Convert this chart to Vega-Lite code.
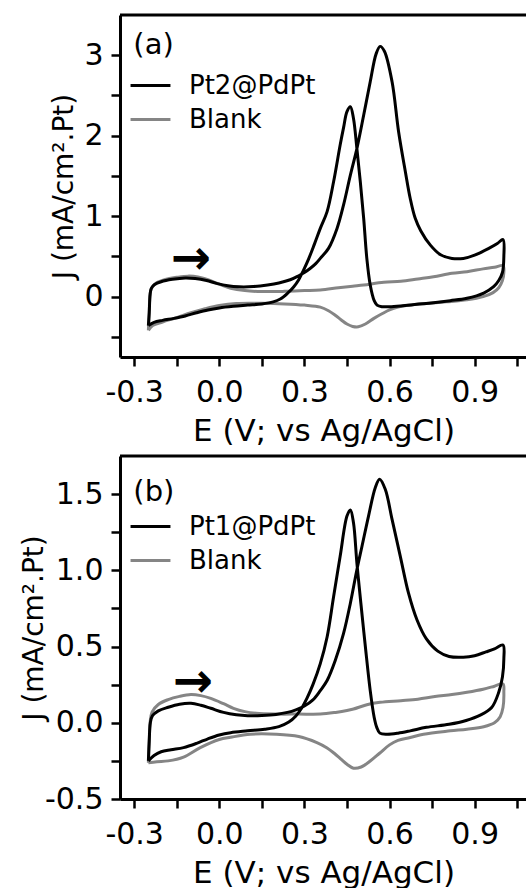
{
"$schema": "https://vega.github.io/schema/vega-lite/v6.json",
"background": "white",
"padding": {"left": 20, "top": 13, "right": 0, "bottom": 0},
"config": {
  "font": "DejaVu Sans",
  "view": {"stroke": null},
  "axis": {"domainColor": "black", "domainWidth": 3, "tickColor": "black", "tickWidth": 2.5, "tickSize": 9, "labelColor": "black", "titleColor": "black", "labelFont": "DejaVu Sans", "titleFont": "DejaVu Sans", "labelFontSize": 30, "titleFontSize": 31, "titleFontWeight": "normal", "grid": false, "labelFlush": false, "labelOverlap": false, "labelPadding": 8},
  "axisX": {"labelPadding": 11, "titlePadding": 9},
  "axisY": {"titleFontSize": 28, "titleBaseline": "bottom"},
  "legend": {"orient": "none", "legendX": 14, "legendY": 54, "title": null, "symbolType": "M-1.33,0L1.33,0", "symbolSize": 900, "symbolStrokeWidth": 3, "labelFontSize": 26, "labelFont": "DejaVu Sans", "labelColor": "black", "labelOffset": 22, "rowPadding": 4, "padding": 0}
},
"datasets": {
"a": [
{"s":"Blank","i":0,"E":-0.25,"J":-0.42},{"s":"Blank","i":1,"E":-0.247,"J":-0.2},{"s":"Blank","i":2,"E":-0.244,"J":0.03},{"s":"Blank","i":3,"E":-0.238,"J":0.11},{"s":"Blank","i":4,"E":-0.222,"J":0.17},{"s":"Blank","i":5,"E":-0.19,"J":0.215},{"s":"Blank","i":6,"E":-0.15,"J":0.24},{"s":"Blank","i":7,"E":-0.11,"J":0.255},{"s":"Blank","i":8,"E":-0.075,"J":0.245},{"s":"Blank","i":9,"E":-0.04,"J":0.21},{"s":"Blank","i":10,"E":0.0,"J":0.155},{"s":"Blank","i":11,"E":0.04,"J":0.105},{"s":"Blank","i":12,"E":0.09,"J":0.075},{"s":"Blank","i":13,"E":0.15,"J":0.063},{"s":"Blank","i":14,"E":0.23,"J":0.066},{"s":"Blank","i":15,"E":0.3,"J":0.075},{"s":"Blank","i":16,"E":0.356,"J":0.083},{"s":"Blank","i":17,"E":0.42,"J":0.11},{"s":"Blank","i":18,"E":0.47,"J":0.13},{"s":"Blank","i":19,"E":0.509,"J":0.145},{"s":"Blank","i":20,"E":0.58,"J":0.178},{"s":"Blank","i":21,"E":0.64,"J":0.19},{"s":"Blank","i":22,"E":0.7,"J":0.22},{"s":"Blank","i":23,"E":0.755,"J":0.248},{"s":"Blank","i":24,"E":0.82,"J":0.29},{"s":"Blank","i":25,"E":0.873,"J":0.31},{"s":"Blank","i":26,"E":0.93,"J":0.345},{"s":"Blank","i":27,"E":0.97,"J":0.365},{"s":"Blank","i":28,"E":1.0,"J":0.385},
{"s":"Blank","i":29,"E":1.003,"J":0.3},{"s":"Blank","i":30,"E":0.998,"J":0.2},{"s":"Blank","i":31,"E":0.985,"J":0.11},{"s":"Blank","i":32,"E":0.965,"J":0.05},{"s":"Blank","i":33,"E":0.93,"J":0.0},{"s":"Blank","i":34,"E":0.873,"J":-0.04},{"s":"Blank","i":35,"E":0.8,"J":-0.065},{"s":"Blank","i":36,"E":0.73,"J":-0.085},{"s":"Blank","i":37,"E":0.673,"J":-0.104},{"s":"Blank","i":38,"E":0.63,"J":-0.13},{"s":"Blank","i":39,"E":0.6,"J":-0.165},{"s":"Blank","i":40,"E":0.575,"J":-0.21},{"s":"Blank","i":41,"E":0.545,"J":-0.27},{"s":"Blank","i":42,"E":0.515,"J":-0.34},{"s":"Blank","i":43,"E":0.49,"J":-0.375},{"s":"Blank","i":44,"E":0.47,"J":-0.37},{"s":"Blank","i":45,"E":0.45,"J":-0.34},{"s":"Blank","i":46,"E":0.43,"J":-0.29},{"s":"Blank","i":47,"E":0.41,"J":-0.235},{"s":"Blank","i":48,"E":0.385,"J":-0.175},{"s":"Blank","i":49,"E":0.356,"J":-0.13},{"s":"Blank","i":50,"E":0.3,"J":-0.105},{"s":"Blank","i":51,"E":0.23,"J":-0.09},{"s":"Blank","i":52,"E":0.15,"J":-0.083},{"s":"Blank","i":53,"E":0.06,"J":-0.085},{"s":"Blank","i":54,"E":0.0,"J":-0.11},{"s":"Blank","i":55,"E":-0.05,"J":-0.15},{"s":"Blank","i":56,"E":-0.1,"J":-0.2},{"s":"Blank","i":57,"E":-0.15,"J":-0.26},{"s":"Blank","i":58,"E":-0.2,"J":-0.315},{"s":"Blank","i":59,"E":-0.235,"J":-0.36},{"s":"Blank","i":60,"E":-0.25,"J":-0.42},
{"s":"Pt2@PdPt","i":0,"E":-0.25,"J":-0.36},{"s":"Pt2@PdPt","i":1,"E":-0.247,"J":-0.2},{"s":"Pt2@PdPt","i":2,"E":-0.244,"J":0.02},{"s":"Pt2@PdPt","i":3,"E":-0.24,"J":0.1},{"s":"Pt2@PdPt","i":4,"E":-0.228,"J":0.15},{"s":"Pt2@PdPt","i":5,"E":-0.205,"J":0.185},{"s":"Pt2@PdPt","i":6,"E":-0.165,"J":0.215},{"s":"Pt2@PdPt","i":7,"E":-0.12,"J":0.232},{"s":"Pt2@PdPt","i":8,"E":-0.085,"J":0.225},{"s":"Pt2@PdPt","i":9,"E":-0.045,"J":0.2},{"s":"Pt2@PdPt","i":10,"E":-0.01,"J":0.165},{"s":"Pt2@PdPt","i":11,"E":0.03,"J":0.135},{"s":"Pt2@PdPt","i":12,"E":0.07,"J":0.122},{"s":"Pt2@PdPt","i":13,"E":0.12,"J":0.125},{"s":"Pt2@PdPt","i":14,"E":0.17,"J":0.145},{"s":"Pt2@PdPt","i":15,"E":0.21,"J":0.17},{"s":"Pt2@PdPt","i":16,"E":0.25,"J":0.21},{"s":"Pt2@PdPt","i":17,"E":0.28,"J":0.26},{"s":"Pt2@PdPt","i":18,"E":0.3,"J":0.3},{"s":"Pt2@PdPt","i":19,"E":0.32,"J":0.35},{"s":"Pt2@PdPt","i":20,"E":0.34,"J":0.41},{"s":"Pt2@PdPt","i":21,"E":0.356,"J":0.476},{"s":"Pt2@PdPt","i":22,"E":0.385,"J":0.6},{"s":"Pt2@PdPt","i":23,"E":0.415,"J":0.848},{"s":"Pt2@PdPt","i":24,"E":0.438,"J":1.14},{"s":"Pt2@PdPt","i":25,"E":0.462,"J":1.51},{"s":"Pt2@PdPt","i":26,"E":0.485,"J":1.84},{"s":"Pt2@PdPt","i":27,"E":0.509,"J":2.257},{"s":"Pt2@PdPt","i":28,"E":0.532,"J":2.67},{"s":"Pt2@PdPt","i":29,"E":0.553,"J":3.02},{"s":"Pt2@PdPt","i":30,"E":0.567,"J":3.11},{"s":"Pt2@PdPt","i":31,"E":0.582,"J":3.05},{"s":"Pt2@PdPt","i":32,"E":0.609,"J":2.67},{"s":"Pt2@PdPt","i":33,"E":0.632,"J":2.05},{"s":"Pt2@PdPt","i":34,"E":0.656,"J":1.55},{"s":"Pt2@PdPt","i":35,"E":0.673,"J":1.22},{"s":"Pt2@PdPt","i":36,"E":0.69,"J":0.98},{"s":"Pt2@PdPt","i":37,"E":0.71,"J":0.82},{"s":"Pt2@PdPt","i":38,"E":0.744,"J":0.64},{"s":"Pt2@PdPt","i":39,"E":0.78,"J":0.52},{"s":"Pt2@PdPt","i":40,"E":0.82,"J":0.475},{"s":"Pt2@PdPt","i":41,"E":0.86,"J":0.475},{"s":"Pt2@PdPt","i":42,"E":0.9,"J":0.515},{"s":"Pt2@PdPt","i":43,"E":0.95,"J":0.6},{"s":"Pt2@PdPt","i":44,"E":0.98,"J":0.66},{"s":"Pt2@PdPt","i":45,"E":1.0,"J":0.71},
{"s":"Pt2@PdPt","i":46,"E":1.003,"J":0.5},{"s":"Pt2@PdPt","i":47,"E":0.998,"J":0.3},{"s":"Pt2@PdPt","i":48,"E":0.985,"J":0.2},{"s":"Pt2@PdPt","i":49,"E":0.967,"J":0.124},{"s":"Pt2@PdPt","i":50,"E":0.932,"J":0.045},{"s":"Pt2@PdPt","i":51,"E":0.873,"J":-0.02},{"s":"Pt2@PdPt","i":52,"E":0.814,"J":-0.05},{"s":"Pt2@PdPt","i":53,"E":0.755,"J":-0.075},{"s":"Pt2@PdPt","i":54,"E":0.697,"J":-0.095},{"s":"Pt2@PdPt","i":55,"E":0.64,"J":-0.115},{"s":"Pt2@PdPt","i":56,"E":0.6,"J":-0.125},{"s":"Pt2@PdPt","i":57,"E":0.573,"J":-0.125},{"s":"Pt2@PdPt","i":58,"E":0.556,"J":-0.105},{"s":"Pt2@PdPt","i":59,"E":0.546,"J":-0.05},{"s":"Pt2@PdPt","i":60,"E":0.532,"J":0.145},{"s":"Pt2@PdPt","i":61,"E":0.52,"J":0.476},{"s":"Pt2@PdPt","i":62,"E":0.509,"J":0.97},{"s":"Pt2@PdPt","i":63,"E":0.497,"J":1.43},{"s":"Pt2@PdPt","i":64,"E":0.485,"J":1.84},{"s":"Pt2@PdPt","i":65,"E":0.473,"J":2.215},{"s":"Pt2@PdPt","i":66,"E":0.462,"J":2.36},{"s":"Pt2@PdPt","i":67,"E":0.45,"J":2.3},{"s":"Pt2@PdPt","i":68,"E":0.438,"J":2.1},{"s":"Pt2@PdPt","i":69,"E":0.426,"J":1.884},{"s":"Pt2@PdPt","i":70,"E":0.403,"J":1.43},{"s":"Pt2@PdPt","i":71,"E":0.38,"J":1.056},{"s":"Pt2@PdPt","i":72,"E":0.356,"J":0.848},{"s":"Pt2@PdPt","i":73,"E":0.335,"J":0.65},{"s":"Pt2@PdPt","i":74,"E":0.315,"J":0.47},{"s":"Pt2@PdPt","i":75,"E":0.297,"J":0.33},{"s":"Pt2@PdPt","i":76,"E":0.28,"J":0.21},{"s":"Pt2@PdPt","i":77,"E":0.262,"J":0.12},{"s":"Pt2@PdPt","i":78,"E":0.24,"J":0.04},{"s":"Pt2@PdPt","i":79,"E":0.215,"J":-0.03},{"s":"Pt2@PdPt","i":80,"E":0.19,"J":-0.065},{"s":"Pt2@PdPt","i":81,"E":0.15,"J":-0.09},{"s":"Pt2@PdPt","i":82,"E":0.1,"J":-0.105},{"s":"Pt2@PdPt","i":83,"E":0.05,"J":-0.12},{"s":"Pt2@PdPt","i":84,"E":0.0,"J":-0.14},{"s":"Pt2@PdPt","i":85,"E":-0.04,"J":-0.165},{"s":"Pt2@PdPt","i":86,"E":-0.08,"J":-0.2},{"s":"Pt2@PdPt","i":87,"E":-0.12,"J":-0.24},{"s":"Pt2@PdPt","i":88,"E":-0.16,"J":-0.27},{"s":"Pt2@PdPt","i":89,"E":-0.2,"J":-0.295},{"s":"Pt2@PdPt","i":90,"E":-0.23,"J":-0.32},{"s":"Pt2@PdPt","i":91,"E":-0.25,"J":-0.36}
],
"b": [
{"s":"Blank","i":0,"E":-0.25,"J":-0.262},{"s":"Blank","i":1,"E":-0.247,"J":-0.12},{"s":"Blank","i":2,"E":-0.244,"J":0.0},{"s":"Blank","i":3,"E":-0.237,"J":0.07},{"s":"Blank","i":4,"E":-0.215,"J":0.12},{"s":"Blank","i":5,"E":-0.18,"J":0.152},{"s":"Blank","i":6,"E":-0.14,"J":0.173},{"s":"Blank","i":7,"E":-0.1,"J":0.185},{"s":"Blank","i":8,"E":-0.065,"J":0.178},{"s":"Blank","i":9,"E":-0.03,"J":0.16},{"s":"Blank","i":10,"E":0.015,"J":0.125},{"s":"Blank","i":11,"E":0.05,"J":0.095},{"s":"Blank","i":12,"E":0.09,"J":0.073},{"s":"Blank","i":13,"E":0.13,"J":0.062},{"s":"Blank","i":14,"E":0.2,"J":0.057},{"s":"Blank","i":15,"E":0.28,"J":0.057},{"s":"Blank","i":16,"E":0.356,"J":0.057},{"s":"Blank","i":17,"E":0.41,"J":0.068},{"s":"Blank","i":18,"E":0.45,"J":0.08},{"s":"Blank","i":19,"E":0.473,"J":0.09},{"s":"Blank","i":20,"E":0.52,"J":0.118},{"s":"Blank","i":21,"E":0.567,"J":0.134},{"s":"Blank","i":22,"E":0.64,"J":0.145},{"s":"Blank","i":23,"E":0.7,"J":0.155},{"s":"Blank","i":24,"E":0.76,"J":0.172},{"s":"Blank","i":25,"E":0.82,"J":0.185},{"s":"Blank","i":26,"E":0.873,"J":0.2},{"s":"Blank","i":27,"E":0.93,"J":0.22},{"s":"Blank","i":28,"E":0.97,"J":0.24},{"s":"Blank","i":29,"E":1.0,"J":0.255},
{"s":"Blank","i":30,"E":1.003,"J":0.2},{"s":"Blank","i":31,"E":1.0,"J":0.1},{"s":"Blank","i":32,"E":0.99,"J":0.04},{"s":"Blank","i":33,"E":0.97,"J":0.0},{"s":"Blank","i":34,"E":0.932,"J":-0.026},{"s":"Blank","i":35,"E":0.873,"J":-0.042},{"s":"Blank","i":36,"E":0.814,"J":-0.053},{"s":"Blank","i":37,"E":0.72,"J":-0.075},{"s":"Blank","i":38,"E":0.673,"J":-0.097},{"s":"Blank","i":39,"E":0.63,"J":-0.115},{"s":"Blank","i":40,"E":0.6,"J":-0.145},{"s":"Blank","i":41,"E":0.565,"J":-0.2},{"s":"Blank","i":42,"E":0.532,"J":-0.251},{"s":"Blank","i":43,"E":0.5,"J":-0.29},{"s":"Blank","i":44,"E":0.473,"J":-0.298},{"s":"Blank","i":45,"E":0.45,"J":-0.272},{"s":"Blank","i":46,"E":0.43,"J":-0.24},{"s":"Blank","i":47,"E":0.405,"J":-0.2},{"s":"Blank","i":48,"E":0.38,"J":-0.165},{"s":"Blank","i":49,"E":0.344,"J":-0.13},{"s":"Blank","i":50,"E":0.28,"J":-0.09},{"s":"Blank","i":51,"E":0.2,"J":-0.075},{"s":"Blank","i":52,"E":0.11,"J":-0.075},{"s":"Blank","i":53,"E":0.04,"J":-0.095},{"s":"Blank","i":54,"E":0.0,"J":-0.11},{"s":"Blank","i":55,"E":-0.067,"J":-0.163},{"s":"Blank","i":56,"E":-0.126,"J":-0.225},{"s":"Blank","i":57,"E":-0.18,"J":-0.25},{"s":"Blank","i":58,"E":-0.22,"J":-0.255},{"s":"Blank","i":59,"E":-0.25,"J":-0.262},
{"s":"Pt1@PdPt","i":0,"E":-0.25,"J":-0.25},{"s":"Pt1@PdPt","i":1,"E":-0.247,"J":-0.12},{"s":"Pt1@PdPt","i":2,"E":-0.243,"J":0.0},{"s":"Pt1@PdPt","i":3,"E":-0.236,"J":0.045},{"s":"Pt1@PdPt","i":4,"E":-0.215,"J":0.078},{"s":"Pt1@PdPt","i":5,"E":-0.18,"J":0.102},{"s":"Pt1@PdPt","i":6,"E":-0.14,"J":0.122},{"s":"Pt1@PdPt","i":7,"E":-0.1,"J":0.128},{"s":"Pt1@PdPt","i":8,"E":-0.065,"J":0.115},{"s":"Pt1@PdPt","i":9,"E":-0.03,"J":0.095},{"s":"Pt1@PdPt","i":10,"E":0.015,"J":0.068},{"s":"Pt1@PdPt","i":11,"E":0.06,"J":0.052},{"s":"Pt1@PdPt","i":12,"E":0.1,"J":0.046},{"s":"Pt1@PdPt","i":13,"E":0.15,"J":0.048},{"s":"Pt1@PdPt","i":14,"E":0.2,"J":0.055},{"s":"Pt1@PdPt","i":15,"E":0.24,"J":0.068},{"s":"Pt1@PdPt","i":16,"E":0.27,"J":0.085},{"s":"Pt1@PdPt","i":17,"E":0.3,"J":0.11},{"s":"Pt1@PdPt","i":18,"E":0.33,"J":0.15},{"s":"Pt1@PdPt","i":19,"E":0.356,"J":0.211},{"s":"Pt1@PdPt","i":20,"E":0.38,"J":0.277},{"s":"Pt1@PdPt","i":21,"E":0.409,"J":0.41},{"s":"Pt1@PdPt","i":22,"E":0.438,"J":0.586},{"s":"Pt1@PdPt","i":23,"E":0.462,"J":0.784},{"s":"Pt1@PdPt","i":24,"E":0.485,"J":1.004},{"s":"Pt1@PdPt","i":25,"E":0.503,"J":1.158},{"s":"Pt1@PdPt","i":26,"E":0.526,"J":1.356},{"s":"Pt1@PdPt","i":27,"E":0.55,"J":1.544},{"s":"Pt1@PdPt","i":28,"E":0.565,"J":1.598},{"s":"Pt1@PdPt","i":29,"E":0.585,"J":1.532},{"s":"Pt1@PdPt","i":30,"E":0.609,"J":1.334},{"s":"Pt1@PdPt","i":31,"E":0.638,"J":1.092},{"s":"Pt1@PdPt","i":32,"E":0.667,"J":0.85},{"s":"Pt1@PdPt","i":33,"E":0.697,"J":0.674},{"s":"Pt1@PdPt","i":34,"E":0.73,"J":0.55},{"s":"Pt1@PdPt","i":35,"E":0.77,"J":0.47},{"s":"Pt1@PdPt","i":36,"E":0.81,"J":0.435},{"s":"Pt1@PdPt","i":37,"E":0.86,"J":0.43},{"s":"Pt1@PdPt","i":38,"E":0.9,"J":0.44},{"s":"Pt1@PdPt","i":39,"E":0.94,"J":0.465},{"s":"Pt1@PdPt","i":40,"E":0.97,"J":0.485},{"s":"Pt1@PdPt","i":41,"E":1.0,"J":0.51},
{"s":"Pt1@PdPt","i":42,"E":1.003,"J":0.42},{"s":"Pt1@PdPt","i":43,"E":0.998,"J":0.3},{"s":"Pt1@PdPt","i":44,"E":0.985,"J":0.2},{"s":"Pt1@PdPt","i":45,"E":0.96,"J":0.1},{"s":"Pt1@PdPt","i":46,"E":0.92,"J":0.05},{"s":"Pt1@PdPt","i":47,"E":0.87,"J":0.015},{"s":"Pt1@PdPt","i":48,"E":0.81,"J":-0.01},{"s":"Pt1@PdPt","i":49,"E":0.73,"J":-0.03},{"s":"Pt1@PdPt","i":50,"E":0.673,"J":-0.053},{"s":"Pt1@PdPt","i":51,"E":0.63,"J":-0.068},{"s":"Pt1@PdPt","i":52,"E":0.591,"J":-0.075},{"s":"Pt1@PdPt","i":53,"E":0.566,"J":-0.068},{"s":"Pt1@PdPt","i":54,"E":0.555,"J":-0.03},{"s":"Pt1@PdPt","i":55,"E":0.546,"J":0.035},{"s":"Pt1@PdPt","i":56,"E":0.532,"J":0.211},{"s":"Pt1@PdPt","i":57,"E":0.515,"J":0.497},{"s":"Pt1@PdPt","i":58,"E":0.499,"J":0.784},{"s":"Pt1@PdPt","i":59,"E":0.485,"J":1.048},{"s":"Pt1@PdPt","i":60,"E":0.473,"J":1.312},{"s":"Pt1@PdPt","i":61,"E":0.462,"J":1.396},{"s":"Pt1@PdPt","i":62,"E":0.45,"J":1.356},{"s":"Pt1@PdPt","i":63,"E":0.426,"J":1.092},{"s":"Pt1@PdPt","i":64,"E":0.403,"J":0.828},{"s":"Pt1@PdPt","i":65,"E":0.38,"J":0.563},{"s":"Pt1@PdPt","i":66,"E":0.356,"J":0.388},{"s":"Pt1@PdPt","i":67,"E":0.33,"J":0.25},{"s":"Pt1@PdPt","i":68,"E":0.31,"J":0.165},{"s":"Pt1@PdPt","i":69,"E":0.29,"J":0.095},{"s":"Pt1@PdPt","i":70,"E":0.27,"J":0.045},{"s":"Pt1@PdPt","i":71,"E":0.245,"J":0.005},{"s":"Pt1@PdPt","i":72,"E":0.21,"J":-0.025},{"s":"Pt1@PdPt","i":73,"E":0.16,"J":-0.042},{"s":"Pt1@PdPt","i":74,"E":0.1,"J":-0.053},{"s":"Pt1@PdPt","i":75,"E":0.04,"J":-0.065},{"s":"Pt1@PdPt","i":76,"E":0.0,"J":-0.08},{"s":"Pt1@PdPt","i":77,"E":-0.04,"J":-0.105},{"s":"Pt1@PdPt","i":78,"E":-0.08,"J":-0.135},{"s":"Pt1@PdPt","i":79,"E":-0.126,"J":-0.163},{"s":"Pt1@PdPt","i":80,"E":-0.17,"J":-0.177},{"s":"Pt1@PdPt","i":81,"E":-0.205,"J":-0.19},{"s":"Pt1@PdPt","i":82,"E":-0.23,"J":-0.215},{"s":"Pt1@PdPt","i":83,"E":-0.25,"J":-0.25}
]
},
"spacing": 8,
"vconcat": [
{
  "width": 407, "height": 342,
  "layer": [
    {"data": {"name": "a"}, "transform": [{"filter": "datum.s == 'Blank'"}],
     "mark": {"type": "line", "strokeWidth": 3, "interpolate": "catmull-rom"},
     "encoding": {
       "x": {"field": "E", "type": "quantitative", "scale": {"domain": [-0.35, 1.0846], "nice": false, "zero": false},
             "axis": {"title": "E (V; vs Ag/AgCl)", "values": [-0.3, -0.15, 0, 0.15, 0.3, 0.45, 0.6, 0.75, 0.9, 1.05], "labelExpr": "round(datum.value*100) % 30 === 0 ? replace(format(datum.value, '.1f'), '−', '-') : ''"}},
       "y": {"field": "J", "type": "quantitative", "scale": {"domain": [-0.75, 3.5], "nice": false, "zero": false},
             "axis": {"title": "J (mA/cm².Pt)", "titleX": -42, "values": [-0.5, 0, 0.5, 1, 1.5, 2, 2.5, 3], "labelExpr": "datum.value % 1 === 0 ? format(datum.value, 'd') : ''"}},
       "color": {"field": "s", "type": "nominal", "scale": {"domain": ["Pt2@PdPt", "Blank"], "range": ["#000000", "#858585"]}},
       "order": {"field": "i", "type": "quantitative"}
     }},
    {"data": {"name": "a"}, "transform": [{"filter": "datum.s != 'Blank'"}],
     "mark": {"type": "line", "strokeWidth": 3, "interpolate": "catmull-rom"},
     "encoding": {
       "x": {"field": "E", "type": "quantitative"},
       "y": {"field": "J", "type": "quantitative"},
       "color": {"field": "s", "type": "nominal"},
       "order": {"field": "i", "type": "quantitative"}
     }},
    {"data": {"values": [{}]}, "mark": {"type": "rule", "color": "black", "strokeWidth": 3}, "encoding": {"y": {"datum": 3.5}}},
    {"data": {"values": [{}]}, "mark": {"type": "text", "text": "(a)", "fontSize": 29, "align": "left", "baseline": "middle", "font": "DejaVu Sans", "color": "black"}, "encoding": {"x": {"datum": -0.303}, "y": {"datum": 3.13}}},
    {"data": {"values": [{}]}, "mark": {"type": "text", "text": "→", "fontSize": 48, "fontWeight": "bold", "align": "center", "baseline": "middle", "font": "DejaVu Sans", "color": "black"}, "encoding": {"x": {"datum": -0.1}, "y": {"datum": 0.46}}}
  ]
},
{
  "width": 407, "height": 343,
  "layer": [
    {"data": {"name": "b"}, "transform": [{"filter": "datum.s == 'Blank'"}],
     "mark": {"type": "line", "strokeWidth": 3, "interpolate": "catmull-rom"},
     "encoding": {
       "x": {"field": "E", "type": "quantitative", "scale": {"domain": [-0.35, 1.0846], "nice": false, "zero": false},
             "axis": {"title": "E (V; vs Ag/AgCl)", "values": [-0.3, -0.15, 0, 0.15, 0.3, 0.45, 0.6, 0.75, 0.9, 1.05], "labelExpr": "round(datum.value*100) % 30 === 0 ? replace(format(datum.value, '.1f'), '−', '-') : ''"}},
       "y": {"field": "J", "type": "quantitative", "scale": {"domain": [-0.5, 1.75], "nice": false, "zero": false},
             "axis": {"title": "J (mA/cm².Pt)", "titleX": -72, "values": [-0.5, -0.25, 0, 0.25, 0.5, 0.75, 1, 1.25, 1.5], "labelExpr": "round(datum.value*100) % 50 === 0 ? replace(format(datum.value, '.1f'), '−', '-') : ''"}},
       "color": {"field": "s", "type": "nominal", "scale": {"domain": ["Pt1@PdPt", "Blank"], "range": ["#000000", "#858585"]}},
       "order": {"field": "i", "type": "quantitative"}
     }},
    {"data": {"name": "b"}, "transform": [{"filter": "datum.s != 'Blank'"}],
     "mark": {"type": "line", "strokeWidth": 3, "interpolate": "catmull-rom"},
     "encoding": {
       "x": {"field": "E", "type": "quantitative"},
       "y": {"field": "J", "type": "quantitative"},
       "color": {"field": "s", "type": "nominal"},
       "order": {"field": "i", "type": "quantitative"}
     }},
    {"data": {"values": [{}]}, "mark": {"type": "rule", "color": "black", "strokeWidth": 3}, "encoding": {"y": {"datum": 1.75}}},
    {"data": {"values": [{}]}, "mark": {"type": "text", "text": "(b)", "fontSize": 29, "align": "left", "baseline": "middle", "font": "DejaVu Sans", "color": "black"}, "encoding": {"x": {"datum": -0.303}, "y": {"datum": 1.513}}},
    {"data": {"values": [{}]}, "mark": {"type": "text", "text": "→", "fontSize": 48, "fontWeight": "bold", "align": "center", "baseline": "middle", "font": "DejaVu Sans", "color": "black"}, "encoding": {"x": {"datum": -0.093}, "y": {"datum": 0.258}}}
  ]
}
],
"resolve": {"scale": {"color": "independent", "x": "independent", "y": "independent"}}
}
